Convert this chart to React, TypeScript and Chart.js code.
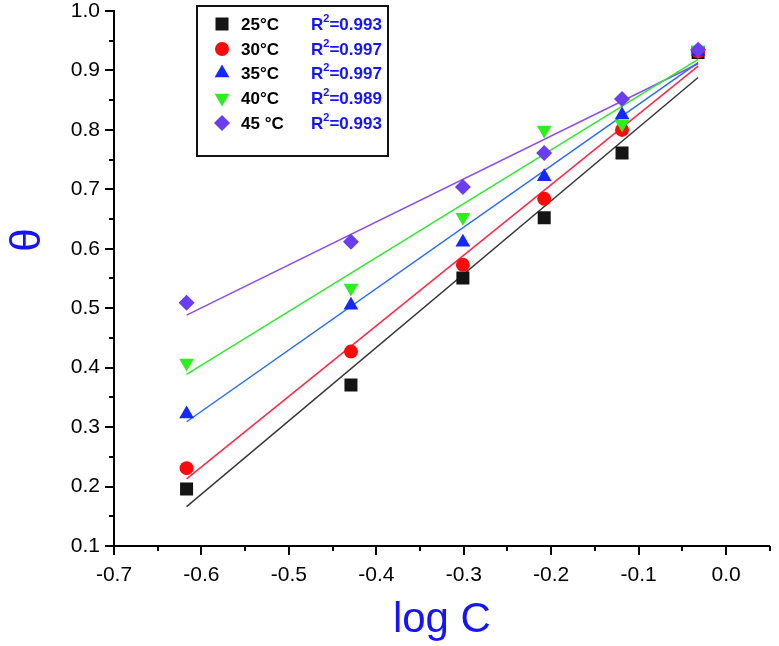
import React, { useEffect, useRef } from 'react';
import { Chart, registerables } from 'chart.js';

Chart.register(...registerables);

// ---- data ----
const logC = [-0.617, -0.429, -0.301, -0.208, -0.119, -0.032];
const theta25 = [0.196, 0.371, 0.551, 0.652, 0.761, 0.93];
const theta30 = [0.231, 0.427, 0.573, 0.684, 0.8, 0.932];
const theta35 = [0.322, 0.505, 0.611, 0.721, 0.825, 0.932];
const theta40 = [0.408, 0.534, 0.653, 0.8, 0.81, 0.935];
const theta45 = [0.509, 0.612, 0.704, 0.761, 0.852, 0.935];
const seriesLabels = ['25°C', '30°C', '35°C', '40°C', '45 °C'];
const r2Values = ['0.993', '0.997', '0.997', '0.989', '0.993'];
const xTickValues = [-0.7, -0.6, -0.5, -0.4, -0.3, -0.2, -0.1, 0.0];
const yTickValues = [0.1, 0.2, 0.3, 0.4, 0.5, 0.6, 0.7, 0.8, 0.9, 1.0];

const seriesValues = [theta25, theta30, theta35, theta40, theta45];
const markerColors = ['#141414', '#ff0a0a', '#1428ff', '#2cf01c', '#6a3df0'];
const lineColors = ['#383838', '#ff2a4a', '#2a6aff', '#30e830', '#8a4ef0'];
const pointStyles = ['rect', 'circle', 'triangle', 'triangle', 'rectRot'];
const pointRotations = [0, 0, 0, 180, 0];
const pointRadii = [9.2, 7, 8.5, 8.5, 8];

const FONT = '"Liberation Sans", Arial, sans-serif';
const BLUE = '#1414ff';

function fitLine(xs: number[], ys: number[]) {
  const n = xs.length;
  const mx = xs.reduce((a, b) => a + b, 0) / n;
  const my = ys.reduce((a, b) => a + b, 0) / n;
  let sxy = 0;
  let sxx = 0;
  for (let i = 0; i < n; i++) {
    sxy += (xs[i] - mx) * (ys[i] - my);
    sxx += (xs[i] - mx) * (xs[i] - mx);
  }
  const slope = sxy / sxx;
  const icpt = my - slope * mx;
  const x0 = xs[0];
  const x1 = xs[n - 1];
  return [
    { x: x0, y: icpt + slope * x0 },
    { x: x1, y: icpt + slope * x1 },
  ];
}

function drawShape(ctx: CanvasRenderingContext2D, i: number, x: number, y: number) {
  const r = pointRadii[i];
  ctx.beginPath();
  if (pointStyles[i] === 'rect') {
    const s = Math.SQRT1_2 * r;
    ctx.rect(x - s, y - s, 2 * s, 2 * s);
  } else if (pointStyles[i] === 'circle') {
    ctx.arc(x, y, r, 0, Math.PI * 2);
  } else if (pointStyles[i] === 'triangle') {
    let rad = (pointRotations[i] * Math.PI) / 180;
    for (let k = 0; k < 3; k++) {
      const px = x + Math.sin(rad) * r;
      const py = y - Math.cos(rad) * r;
      if (k === 0) ctx.moveTo(px, py);
      else ctx.lineTo(px, py);
      rad += (2 * Math.PI) / 3;
    }
    ctx.closePath();
  } else {
    ctx.moveTo(x, y - r);
    ctx.lineTo(x + r, y);
    ctx.lineTo(x, y + r);
    ctx.lineTo(x - r, y);
    ctx.closePath();
  }
  ctx.fillStyle = markerColors[i];
  ctx.fill();
}

const overlayPlugin = {
  id: 'overlay',
  afterDraw(chart: any) {
    const ctx: CanvasRenderingContext2D = chart.ctx;
    const xs = chart.scales.x;
    const ys = chart.scales.y;
    const area = chart.chartArea;
    ctx.save();
    // tick marks (major + minor, outward)
    ctx.strokeStyle = '#000';
    ctx.lineWidth = 2;
    for (let i = 0; i <= 18; i++) {
      const v = 0.1 + i * 0.05;
      const py = Math.round(ys.getPixelForValue(v));
      const len = i % 2 === 0 ? 9 : 5;
      ctx.beginPath();
      ctx.moveTo(area.left - len, py);
      ctx.lineTo(area.left, py);
      ctx.stroke();
    }
    for (let i = 0; i <= 15; i++) {
      const v = -0.7 + i * 0.05;
      const px = Math.round(xs.getPixelForValue(v));
      const len = i % 2 === 0 ? 9 : 5;
      ctx.beginPath();
      ctx.moveTo(px, area.bottom);
      ctx.lineTo(px, area.bottom + len);
      ctx.stroke();
    }
    // y-axis title (rotated theta)
    ctx.save();
    ctx.translate(28, 240);
    ctx.rotate(-Math.PI / 2);
    ctx.fillStyle = BLUE;
    ctx.font = `42px ${FONT}`;
    ctx.textAlign = 'center';
    ctx.textBaseline = 'middle';
    ctx.fillText('θ', 0, 0);
    ctx.restore();

    // legend box
    const bx = 197;
    const by = 6;
    const bw = 191;
    const bh = 150;
    ctx.fillStyle = '#fff';
    ctx.fillRect(bx, by, bw, bh);
    ctx.strokeStyle = '#111';
    ctx.lineWidth = 2;
    ctx.strokeRect(bx, by, bw, bh);
    const rowY = [24, 49, 73, 98, 123];
    for (let i = 0; i < 5; i++) {
      const cy = rowY[i];
      drawShape(ctx, i, 222, cy);
      ctx.fillStyle = '#000';
      ctx.font = `bold 17px ${FONT}`;
      ctx.textAlign = 'left';
      ctx.textBaseline = 'alphabetic';
      ctx.fillText(seriesLabels[i], 241, cy + 6);
      ctx.fillStyle = BLUE;
      ctx.fillText('R', 311, cy + 6);
      const rw = ctx.measureText('R').width;
      ctx.font = `bold 11px ${FONT}`;
      ctx.fillText('2', 311 + rw, cy - 2);
      const sw = ctx.measureText('2').width;
      ctx.font = `bold 17px ${FONT}`;
      ctx.fillText('=' + r2Values[i], 311 + rw + sw, cy + 6);
    }
    ctx.restore();
  },
};

export default function App() {
  const canvasRef = useRef<HTMLCanvasElement | null>(null);

  useEffect(() => {
    if (!canvasRef.current) return;
    const datasets: any[] = [];
    seriesValues.forEach((vals, i) => {
      datasets.push({
        type: 'line',
        label: seriesLabels[i] + ' fit',
        data: fitLine(logC, vals),
        borderColor: lineColors[i],
        borderWidth: 1.5,
        pointRadius: 0,
        showLine: true,
        fill: false,
        order: 20,
      });
    });
    seriesValues.forEach((vals, i) => {
      datasets.push({
        type: 'scatter',
        label: seriesLabels[i],
        data: logC.map((x, k) => ({ x, y: vals[k] })),
        pointStyle: pointStyles[i],
        rotation: pointRotations[i],
        pointRadius: pointRadii[i],
        pointBackgroundColor: markerColors[i],
        pointBorderColor: markerColors[i],
        pointBorderWidth: 0,
        showLine: false,
        order: 10 - i,
      });
    });

    const chart = new Chart(canvasRef.current, {
      type: 'scatter',
      data: { datasets },
      options: {
        animation: false,
        responsive: false,
        devicePixelRatio: 1,
        layout: { padding: { top: 11, right: 3, left: 0, bottom: 0 } },
        plugins: { legend: { display: false }, tooltip: { enabled: false } },
        scales: {
          x: {
            type: 'linear',
            min: -0.7,
            max: 0.05,
            afterBuildTicks: (scale: any) => {
              scale.ticks = xTickValues.map((v) => ({ value: v }));
            },
            ticks: {
              color: '#000',
              font: { family: FONT, size: 21 },
              padding: 17,
              callback: (v: any) => Number(v).toFixed(1),
            },
            grid: { display: false, drawTicks: false },
            border: { display: true, color: '#000', width: 2 },
            title: {
              display: true,
              text: 'log C',
              color: BLUE,
              font: { family: FONT, size: 42 },
              padding: { top: 0, bottom: 0 },
            },
            afterFit: (scale: any) => {
              scale.height = 100;
              scale.paddingLeft = 0;
              scale.paddingRight = 0;
            },
          },
          y: {
            type: 'linear',
            min: 0.1,
            max: 1.0,
            afterBuildTicks: (scale: any) => {
              scale.ticks = yTickValues.map((v) => ({ value: v }));
            },
            ticks: {
              color: '#000',
              font: { family: FONT, size: 21 },
              padding: 14,
              callback: (v: any) => Number(v).toFixed(1),
            },
            grid: { display: false, drawTicks: false },
            border: { display: true, color: '#000', width: 2 },
            afterFit: (scale: any) => {
              scale.width = 114;
              scale.paddingTop = 0;
              scale.paddingBottom = 0;
            },
          },
        },
      },
      plugins: [overlayPlugin],
    } as any);

    return () => chart.destroy();
  }, []);

  return (
    <div style={{ position: 'absolute', left: 0, top: 0, width: 779, height: 646, background: '#fff' }}>
      <canvas ref={canvasRef} width={779} height={646} style={{ width: 779, height: 646, display: 'block' }} />
    </div>
  );
}
